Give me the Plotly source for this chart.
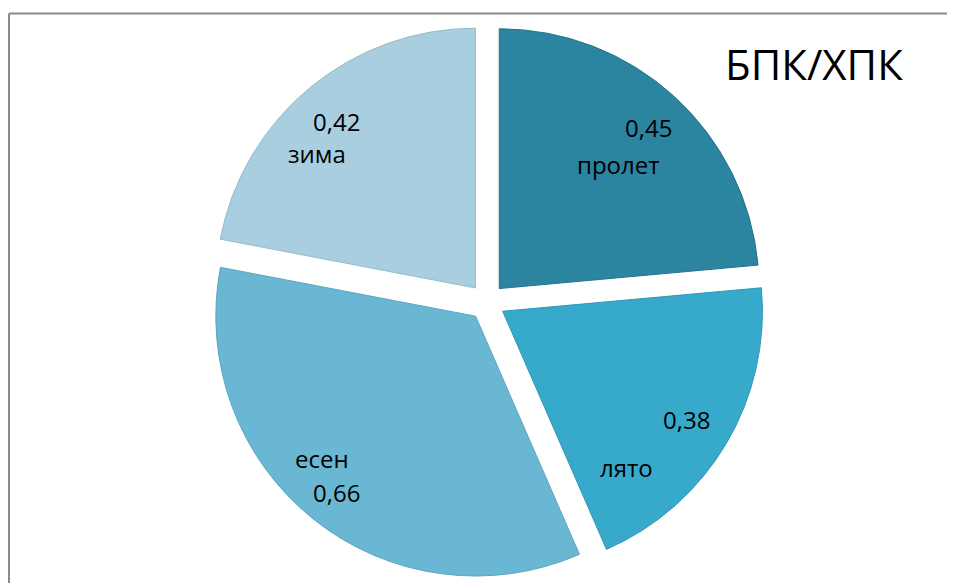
import plotly.graph_objects as go

seasons = ["пролет", "лято", "есен", "зима"]
values = [0.45, 0.38, 0.66, 0.42]
colors = ["#2b84a0", "#37a9cb", "#69b7d2", "#a8cedf"]
edge_colors = ["#25718a", "#3097b6", "#5ca6c1", "#93bccd"]
title_text = "БПК/ХПК"

W, H = 947, 575
OFF = 8  # page offset of the figure


def px(x):
    return (x - OFF) / W


def py(y):
    return 1 - (y - OFF) / H


cx, cy, half = 487, 302, 278

fig = go.Figure(
    go.Pie(
        labels=seasons,
        values=values,
        sort=False,
        direction="clockwise",
        rotation=0,
        pull=[0.07] * len(values),
        marker=dict(colors=colors, line=dict(width=1, color=edge_colors)),
        textinfo="none",
        hoverinfo="label+value",
        showlegend=False,
        domain=dict(x=[px(cx - 300), px(cx + 300)], y=[py(cy + half), py(cy - half)]),
    )
)


def fmt(v):
    return f"{v:.2f}".replace(".", ",")


# label placements (value position, name position) in page pixels
value_pos = [(648.5, 127), (686, 419), (336, 492), (336.5, 121)]
name_pos = [(618.5, 164), (626, 467), (322, 458), (317, 154)]

font = dict(family="Open Sans", size=24, color="#000000")
annotations = []
for s, v, vp, npos in zip(seasons, values, value_pos, name_pos):
    annotations.append(dict(text=fmt(v), x=px(vp[0]), y=py(vp[1]), xref="paper", yref="paper",
                            xanchor="center", yanchor="middle", showarrow=False, font=font))
    annotations.append(dict(text=s, x=px(npos[0]), y=py(npos[1]), xref="paper", yref="paper",
                            xanchor="center", yanchor="middle", showarrow=False, font=font))

annotations.append(dict(text=title_text, x=px(814), y=py(63), xref="paper", yref="paper",
                        xanchor="center", yanchor="middle", showarrow=False,
                        font=dict(family="Open Sans", size=42, color="#000000")))

fig.update_layout(
    width=W,
    height=H,
    margin=dict(l=0, r=0, t=0, b=0),
    paper_bgcolor="white",
    plot_bgcolor="white",
    annotations=annotations,
    shapes=[
        dict(type="line", xref="paper", yref="paper",
             x0=px(9), x1=1, y0=py(13.5), y1=py(13.5),
             line=dict(color="#8a8a8a", width=2), layer="below"),
        dict(type="line", xref="paper", yref="paper",
             x0=px(9), x1=px(9), y0=0, y1=py(13.5),
             line=dict(color="#8a8a8a", width=2), layer="below"),
    ],
)

fig.write_html("out.html")
